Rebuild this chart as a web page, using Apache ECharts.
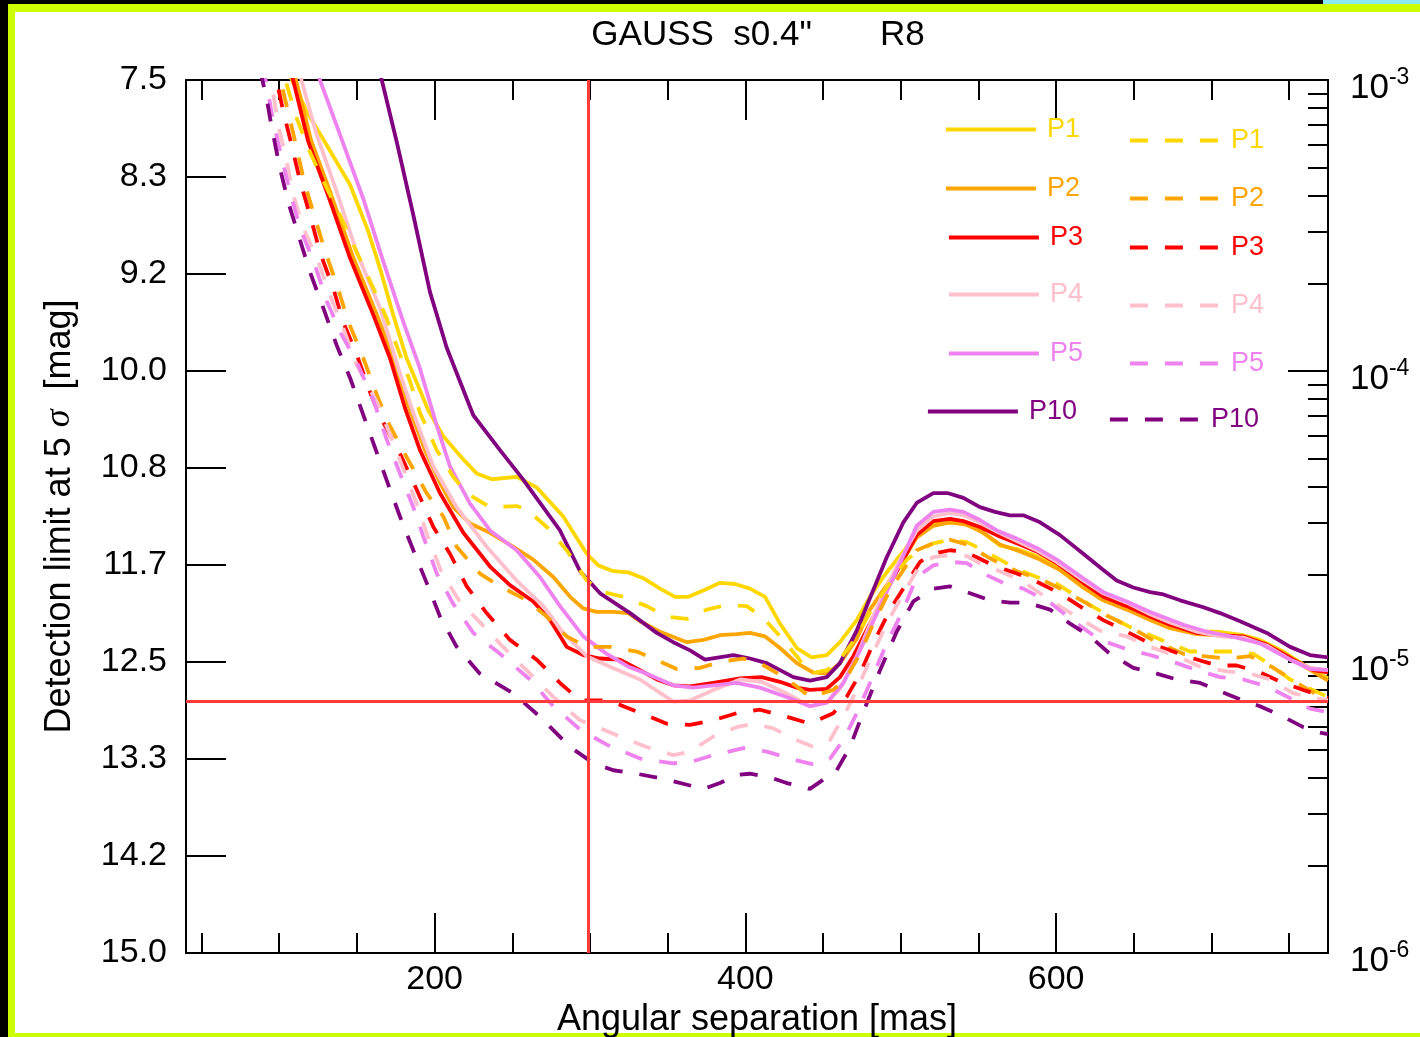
<!DOCTYPE html>
<html><head><meta charset="utf-8">
<script src="https://cdn.jsdelivr.net/npm/echarts@6/dist/echarts.min.js"></script>
<style>
html,body{margin:0;padding:0;background:#000;}
#frame{position:absolute;left:8px;top:4px;width:1412px;height:1033px;background:#ccff00;}
#white{position:absolute;left:15px;top:12px;width:1405px;height:1021px;background:#fff;}
#cyan{position:absolute;left:1323px;top:0;width:97px;height:4px;background:#8ae8f0;}
#c{position:absolute;left:0;top:0;width:1420px;height:1037px;}
</style>
</head><body>
<div id="frame"></div><div id="white"></div><div id="cyan"></div>
<div id="c"></div>
<script>
// ---------- text ----------
const titleText = 'GAUSS  s0.4"       R8';
const xName = 'Angular separation [mas]';
const yName = 'Detection limit at 5 {i|σ}  [mag]';
const names = ['P1', 'P2', 'P3', 'P4', 'P5', 'P10'];
const colors = ['#FFD700', '#FFA500', '#FF0000', '#FFC0CB', '#EE82EE', '#800080'];

// ---------- axes ----------
const xMin = 40, xMax = 775;
const magMin = 7.5, magMax = 15;
const xMajorTicks = [200, 400, 600];
const xMinorTicks = [50, 100, 150, 250, 300, 350, 450, 500, 550, 650, 700, 750];
const magTicks = [7.5, 8.3333, 9.1667, 10, 10.8333, 11.6667, 12.5, 13.3333, 14.1667, 15];
const fluxMajor = [1e-3, 1e-4, 1e-5, 1e-6];
const fluxMinor = [2e-6, 3e-6, 4e-6, 5e-6, 6e-6, 7e-6, 8e-6, 9e-6,
                   2e-5, 3e-5, 4e-5, 5e-5, 6e-5, 7e-5, 8e-5, 9e-5,
                   2e-4, 3e-4, 4e-4, 5e-4, 6e-4, 7e-4, 8e-4, 9e-4];
const limitSep = 299;
const limitMag = 12.84;

// ---------- data: [separation mas, limit mag] ----------
const p1Solid = [[99.2,7.24],[108.2,7.50],[117.7,7.77],[130.6,8.06],[145.6,8.40],[157.3,8.80],[164.9,9.12],[173.4,9.52],[182.0,9.89],[196.0,10.34],[205.6,10.56],[218.5,10.76],[227.1,10.88],[236.8,10.93],[252.8,10.91],[265.7,11.00],[282.8,11.25],[297.9,11.57],[305.4,11.67],[315.0,11.72],[324.7,11.73],[334.3,11.78],[345.1,11.87],[354.7,11.94],[363.3,11.94],[374.0,11.88],[383.7,11.82],[393.4,11.83],[403.0,11.87],[412.7,11.94],[422.3,12.17],[433.1,12.38],[442.7,12.46],[452.4,12.44],[460.9,12.33],[471.7,12.14],[480.2,11.94],[488.8,11.77],[497.4,11.62],[510.3,11.41],[521.0,11.32],[531.7,11.30],[540.3,11.31],[551.0,11.37],[563.9,11.50],[574.7,11.53],[587.5,11.59],[600.4,11.68],[617.5,11.86],[630.4,11.97],[645.5,12.04],[660.5,12.13],[673.3,12.20],[690.5,12.24],[703.4,12.24],[720.5,12.27],[731.2,12.31],[746.2,12.41],[761.3,12.54],[775.0,12.64]];
const p2Solid = [[102.4,7.07],[110.8,7.50],[120.5,8.02],[132.7,8.46],[147.5,9.02],[162.3,9.50],[173.2,9.88],[182.9,10.29],[193.8,10.68],[203.5,10.96],[212.0,11.17],[222.8,11.31],[235.7,11.39],[250.7,11.51],[263.5,11.62],[276.4,11.77],[287.2,11.94],[295.7,12.04],[304.3,12.07],[315.0,12.07],[324.7,12.08],[332.2,12.15],[345.1,12.24],[362.3,12.33],[373.0,12.31],[383.7,12.27],[394.4,12.26],[403.0,12.25],[412.7,12.28],[422.3,12.38],[433.1,12.51],[443.7,12.59],[452.4,12.60],[460.9,12.51],[471.7,12.30],[480.2,12.05],[491.0,11.84],[501.7,11.62],[510.3,11.43],[521.0,11.33],[531.7,11.30],[542.5,11.32],[553.2,11.39],[563.9,11.49],[576.8,11.55],[589.7,11.62],[602.5,11.71],[617.5,11.86],[630.4,11.97],[645.5,12.05],[660.5,12.14],[673.3,12.21],[690.5,12.26],[703.4,12.27],[720.5,12.29],[731.2,12.33],[746.2,12.42],[761.3,12.55],[775.0,12.66]];
const p3Solid = [[103.7,7.23],[109.1,7.51],[118.7,8.03],[130.6,8.46],[145.6,9.03],[160.6,9.52],[171.3,9.89],[181.0,10.32],[190.6,10.68],[203.5,11.05],[218.5,11.39],[235.7,11.68],[248.5,11.84],[263.5,11.98],[274.3,12.14],[285.0,12.37],[295.7,12.44],[306.5,12.47],[319.3,12.48],[332.2,12.57],[343.0,12.65],[353.6,12.70],[364.4,12.71],[379.4,12.68],[396.6,12.64],[410.5,12.63],[422.3,12.67],[433.1,12.72],[441.6,12.74],[452.4,12.73],[460.9,12.63],[469.5,12.45],[480.2,12.17],[491.0,11.88],[501.7,11.62],[510.3,11.41],[521.0,11.29],[531.7,11.27],[540.3,11.29],[551.0,11.34],[561.8,11.41],[574.7,11.48],[587.5,11.55],[600.4,11.65],[617.5,11.82],[630.4,11.94],[645.5,12.02],[660.5,12.11],[673.3,12.18],[690.5,12.25],[703.4,12.27],[720.5,12.28],[735.6,12.35],[752.7,12.48],[765.6,12.57],[775.0,12.59]];
const p4Solid = [[109.5,7.24],[114.5,7.51],[124.1,7.97],[137.0,8.46],[149.9,8.98],[164.9,9.46],[177.7,10.02],[186.3,10.36],[199.2,10.82],[214.2,11.17],[233.5,11.51],[252.8,11.80],[270.0,12.02],[282.8,12.25],[297.9,12.45],[312.9,12.54],[332.2,12.65],[353.6,12.84],[364.4,12.83],[379.4,12.74],[396.6,12.65],[410.5,12.67],[426.6,12.77],[441.6,12.88],[452.4,12.85],[460.9,12.73],[471.7,12.45],[486.7,11.97],[499.6,11.62],[510.3,11.37],[521.0,11.25],[531.7,11.22],[540.3,11.24],[551.0,11.30],[561.8,11.38],[574.7,11.46],[587.5,11.54],[600.4,11.64],[617.5,11.80],[630.4,11.91],[645.5,11.99],[660.5,12.09],[673.3,12.16],[690.5,12.24],[705.5,12.28],[720.5,12.29],[735.6,12.36],[750.6,12.48],[763.4,12.55],[775.0,12.57]];
const p5Solid = [[119.8,7.20],[126.2,7.50],[139.1,7.97],[154.1,8.52],[167.0,9.06],[179.9,9.58],[190.6,9.98],[201.4,10.47],[209.9,10.82],[222.8,11.14],[235.7,11.37],[252.8,11.54],[267.8,11.77],[280.7,12.02],[295.7,12.28],[310.8,12.43],[324.7,12.54],[336.5,12.60],[353.6,12.70],[366.5,12.72],[379.4,12.70],[394.4,12.68],[409.4,12.72],[426.6,12.80],[441.6,12.88],[452.4,12.85],[463.1,12.68],[473.8,12.40],[486.7,12.02],[499.6,11.65],[510.3,11.33],[521.0,11.21],[531.7,11.19],[540.3,11.21],[551.0,11.28],[561.8,11.37],[574.7,11.44],[587.5,11.52],[600.4,11.62],[617.5,11.78],[630.4,11.90],[645.5,11.98],[660.5,12.07],[682.0,12.18],[697.0,12.24],[716.3,12.29],[731.2,12.34],[750.6,12.48],[763.4,12.56],[775.0,12.57]];
const p10Solid = [[158.0,7.05],[166.0,7.50],[175.6,8.03],[186.3,8.66],[197.0,9.32],[207.8,9.80],[224.9,10.38],[242.1,10.68],[256.3,10.92],[280.7,11.37],[293.6,11.72],[306.5,11.91],[325.8,12.08],[343.0,12.25],[353.6,12.33],[364.4,12.40],[374.0,12.48],[392.3,12.44],[403.0,12.47],[413.8,12.51],[430.9,12.63],[441.6,12.66],[452.4,12.63],[460.9,12.51],[471.7,12.23],[482.4,11.88],[491.0,11.60],[501.7,11.30],[510.5,11.13],[521.0,11.05],[530.6,11.05],[540.3,11.09],[551.0,11.17],[560.7,11.21],[570.3,11.24],[578.9,11.24],[589.7,11.30],[602.5,11.41],[617.5,11.57],[630.4,11.71],[639.0,11.80],[649.7,11.86],[660.5,11.90],[669.0,11.92],[679.8,11.97],[694.8,12.03],[705.5,12.08],[718.4,12.15],[735.6,12.25],[750.6,12.37],[763.4,12.44],[775.0,12.46]];

const p1Dash = [[98.6,7.24],[104.8,7.54],[111.3,7.83],[119.8,8.12],[130.6,8.43],[139.1,8.66],[149.9,8.98],[160.6,9.29],[169.2,9.55],[177.7,9.86],[184.2,10.09],[190.6,10.36],[201.4,10.68],[212.0,10.91],[220.7,11.05],[235.7,11.17],[252.8,11.16],[259.3,11.19],[272.2,11.34],[285.0,11.54],[297.9,11.80],[308.6,11.90],[321.5,11.94],[336.5,12.02],[349.4,12.11],[362.3,12.13],[375.1,12.05],[388.0,12.01],[400.9,12.02],[411.6,12.12],[422.3,12.28],[433.1,12.45],[441.6,12.60],[452.4,12.57],[460.9,12.48],[471.7,12.28],[482.4,12.02],[493.1,11.82],[503.9,11.62],[512.4,11.54],[521.0,11.48],[531.7,11.45],[542.5,11.47],[553.2,11.54],[563.9,11.62],[574.7,11.70],[587.5,11.77],[598.2,11.81],[609.0,11.90],[621.8,12.01],[634.7,12.11],[647.6,12.20],[660.5,12.27],[673.3,12.34],[686.2,12.41],[701.2,12.41],[714.1,12.41],[727.0,12.43],[739.8,12.54],[750.6,12.65],[763.4,12.73],[775.0,12.80]];
const p2Dash = [[96.6,7.29],[101.1,7.52],[105.7,7.77],[110.8,8.06],[116.0,8.37],[122.4,8.66],[129.5,8.97],[137.8,9.29],[144.3,9.57],[153.3,9.86],[161.6,10.16],[169.2,10.42],[182.0,10.74],[194.9,11.05],[205.6,11.25],[214.2,11.51],[229.2,11.74],[242.1,11.85],[259.3,11.97],[272.2,12.11],[285.0,12.28],[297.9,12.37],[312.9,12.37],[330.1,12.41],[340.8,12.47],[355.8,12.56],[370.8,12.55],[383.7,12.50],[398.7,12.47],[409.4,12.51],[422.3,12.61],[433.1,12.71],[441.6,12.80],[456.6,12.74],[465.2,12.63],[473.8,12.43],[482.4,12.17],[493.1,11.88],[501.7,11.71],[510.3,11.54],[521.0,11.48],[531.7,11.45],[542.5,11.49],[557.5,11.61],[574.7,11.72],[591.8,11.80],[604.6,11.88],[617.5,11.98],[632.6,12.10],[647.6,12.20],[664.8,12.33],[681.9,12.43],[694.8,12.45],[709.8,12.47],[724.9,12.45],[739.9,12.55],[754.9,12.68],[767.8,12.78],[775.0,12.81]];
const p3Dash = [[94.1,7.29],[98.4,7.51],[102.6,7.77],[108.0,8.06],[113.4,8.37],[119.8,8.66],[126.2,8.98],[134.8,9.29],[141.2,9.58],[149.9,9.86],[158.4,10.18],[164.9,10.39],[177.7,10.71],[188.5,11.02],[199.2,11.34],[209.9,11.57],[220.7,11.85],[233.5,12.08],[248.5,12.31],[265.7,12.48],[280.7,12.68],[293.6,12.83],[312.9,12.83],[321.5,12.88],[336.5,12.96],[349.4,13.03],[364.4,13.04],[379.4,13.00],[394.4,12.94],[409.4,12.91],[426.6,12.97],[441.6,13.03],[456.6,12.94],[465.2,12.80],[473.8,12.60],[482.4,12.34],[493.1,12.05],[503.9,11.82],[512.4,11.64],[521.0,11.57],[531.7,11.54],[540.3,11.55],[548.9,11.60],[559.6,11.67],[574.7,11.74],[587.5,11.81],[602.5,11.91],[617.5,12.04],[630.4,12.14],[645.5,12.24],[660.5,12.34],[673.3,12.40],[688.4,12.47],[703.4,12.53],[716.3,12.53],[731.2,12.59],[746.2,12.68],[759.1,12.74],[775.0,12.81]];
const p4Dash = [[91.5,7.33],[95.2,7.54],[99.4,7.89],[104.8,8.20],[109.1,8.49],[115.5,8.77],[125.1,9.06],[132.7,9.35],[141.2,9.63],[149.9,9.95],[163.6,10.29],[172.6,10.59],[181.0,10.88],[189.3,11.17],[195.8,11.43],[204.8,11.74],[215.7,11.97],[229.2,12.16],[244.0,12.37],[261.4,12.60],[276.4,12.80],[293.6,13.00],[308.6,13.08],[324.7,13.17],[336.5,13.23],[353.6,13.30],[364.4,13.27],[379.4,13.14],[394.4,13.06],[405.1,13.03],[418.0,13.07],[430.9,13.16],[443.7,13.23],[454.5,13.17],[463.1,12.97],[471.7,12.74],[480.2,12.48],[491.0,12.17],[501.7,11.91],[512.4,11.67],[521.0,11.60],[531.7,11.58],[542.5,11.59],[553.2,11.67],[563.9,11.72],[578.9,11.81],[596.1,11.97],[613.3,12.11],[628.2,12.23],[645.5,12.28],[660.5,12.37],[677.6,12.45],[692.7,12.54],[709.8,12.58],[724.9,12.60],[737.7,12.65],[752.8,12.77],[763.4,12.80],[775.0,12.83]];
const p5Dash = [[88.9,7.37],[91.9,7.54],[96.2,7.86],[101.6,8.17],[106.9,8.46],[113.4,8.77],[123.0,9.09],[130.6,9.40],[140.2,9.69],[149.9,9.92],[160.6,10.25],[169.2,10.59],[177.7,10.88],[186.3,11.17],[192.7,11.42],[201.4,11.74],[212.0,12.00],[224.9,12.25],[242.1,12.43],[261.4,12.65],[276.4,12.88],[293.6,13.08],[310.8,13.21],[332.2,13.33],[353.6,13.37],[364.4,13.36],[379.4,13.30],[398.7,13.24],[413.8,13.27],[428.8,13.33],[443.7,13.38],[454.5,13.33],[463.1,13.17],[471.7,12.94],[480.2,12.68],[491.0,12.34],[501.7,12.05],[510.3,11.77],[521.0,11.67],[531.7,11.64],[542.5,11.65],[553.2,11.74],[566.0,11.82],[578.9,11.87],[596.1,11.99],[613.3,12.17],[628.2,12.31],[645.5,12.39],[660.5,12.44],[677.6,12.51],[692.7,12.58],[705.5,12.63],[720.5,12.65],[735.6,12.71],[750.6,12.81],[763.4,12.90],[775.0,12.93]];
const p10Dash = [[87.6,7.41],[91.9,7.66],[95.2,7.91],[100.5,8.26],[105.8,8.55],[112.3,8.83],[119.8,9.15],[128.4,9.46],[137.0,9.78],[145.6,10.06],[153.1,10.34],[160.6,10.62],[169.2,10.94],[177.7,11.25],[186.3,11.54],[194.9,11.82],[203.5,12.11],[214.2,12.37],[229.2,12.60],[250.7,12.77],[267.8,12.97],[287.2,13.23],[302.2,13.37],[315.0,13.43],[330.1,13.46],[349.4,13.51],[373.0,13.59],[383.7,13.54],[394.4,13.47],[403.0,13.46],[415.9,13.49],[426.6,13.54],[441.6,13.59],[458.8,13.43],[467.4,13.23],[475.9,12.93],[486.7,12.57],[497.4,12.24],[508.1,11.98],[521.0,11.87],[531.7,11.85],[544.6,11.91],[557.5,11.97],[570.3,11.99],[581.1,11.99],[596.1,12.05],[609.0,12.17],[621.8,12.28],[634.7,12.43],[649.7,12.55],[664.8,12.60],[677.6,12.65],[692.7,12.68],[703.4,12.74],[718.4,12.82],[731.2,12.88],[746.2,12.97],[759.1,13.06],[767.7,13.10],[775.0,13.12]];

const solidSets = [p1Solid, p2Solid, p3Solid, p4Solid, p5Solid, p10Solid];
const dashSets = [p1Dash, p2Dash, p3Dash, p4Dash, p5Dash, p10Dash];

// ---------- layout (legend rows) ----------
const legendSolidLeft = [944, 944, 947, 947, 947, 926];
const legendSolidY = [128, 187, 236, 293, 352, 410];
const legendDashLeft = [1128, 1128, 1128, 1128, 1128, 1108];
const legendDashY = [139, 197, 246, 304, 362, 418];

const FONT = '"Liberation Sans", Arial, Helvetica, sans-serif';
const fluxToMag = f => +(-2.5 * Math.log10(f)).toFixed(6);
const majorMag = fluxMajor.map(fluxToMag);
const minorMag = fluxMinor.map(fluxToMag);
const LW = 3.8;
const DASH = [18, 17];
const axisLineStyle = { color: '#000', width: 2 };

const chart = echarts.init(document.getElementById('c'), null, { renderer: 'canvas' });

const series = [];
solidSets.forEach((d, i) => series.push({
  name: names[i], type: 'line', data: d, showSymbol: false, symbol: 'none',
  lineStyle: { color: colors[i], width: LW, type: 'solid' }, itemStyle: { color: colors[i] },
  emphasis: { disabled: true }, clip: true, z: 2
}));
dashSets.forEach((d, i) => series.push({
  name: names[i] + ' dashed', type: 'line', data: d, showSymbol: false, symbol: 'none',
  lineStyle: { color: colors[i], width: LW, type: DASH }, itemStyle: { color: colors[i] },
  emphasis: { disabled: true }, clip: true, z: 3
}));
series.push({
  name: 'limits', type: 'line', data: [[limitSep, limitMag]], showSymbol: false, symbol: 'none',
  lineStyle: { opacity: 0 }, z: 5, silent: true,
  markLine: {
    silent: true, symbol: ['none', 'none'], label: { show: false },
    lineStyle: { color: '#ff3b3b', width: 3, type: 'solid' },
    emphasis: { disabled: true },
    data: [{ xAxis: limitSep }, { yAxis: limitMag }]
  }
});

const legends = [];
names.forEach((n, i) => {
  const common = {
    orient: 'vertical', padding: 0, itemWidth: 90, itemHeight: 24, selectedMode: false,
    textStyle: { color: colors[i], fontSize: 27, fontFamily: FONT, padding: [0, 0, 0, 6] },
    lineStyle: { width: LW },
    itemStyle: { opacity: 0 }
  };
  legends.push(Object.assign({}, common, {
    data: [{ name: n }], left: legendSolidLeft[i], top: legendSolidY[i] - 12
  }));
  legends.push(Object.assign({}, common, {
    data: [{ name: n + ' dashed' }], left: legendDashLeft[i], top: legendDashY[i] - 12,
    formatter: () => n
  }));
});

const baseX = { type: 'value', min: xMin, max: xMax, splitLine: { show: false } };
const baseY = { type: 'value', min: magMin, max: magMax, inverse: true, splitLine: { show: false } };

const option = {
  backgroundColor: 'transparent',
  animation: false,
  grid: { left: 186, right: 92, top: 80, bottom: 84, containLabel: false, outerBoundsMode: 'none' },
  legend: legends,
  xAxis: [
    Object.assign({}, baseX, {
      position: 'bottom',
      axisLine: { show: true, onZero: false, lineStyle: axisLineStyle },
      axisTick: { show: true, inside: true, length: 40, customValues: xMajorTicks, lineStyle: axisLineStyle },
      axisLabel: { show: true, customValues: xMajorTicks, margin: 10, color: '#000', fontSize: 34, fontFamily: FONT },
      name: xName, nameLocation: 'middle', nameGap: 45,
      nameTextStyle: { color: '#000', fontSize: 36, fontFamily: FONT }
    }),
    Object.assign({}, baseX, {
      position: 'bottom',
      axisLine: { show: false, onZero: false },
      axisTick: { show: true, inside: true, length: 20, customValues: xMinorTicks, lineStyle: axisLineStyle },
      axisLabel: { show: false }
    }),
    Object.assign({}, baseX, {
      position: 'top',
      axisLine: { show: true, onZero: false, lineStyle: axisLineStyle },
      axisTick: { show: true, inside: true, length: 40, customValues: xMajorTicks, lineStyle: axisLineStyle },
      axisLabel: { show: false }
    }),
    Object.assign({}, baseX, {
      position: 'top',
      axisLine: { show: false, onZero: false },
      axisTick: { show: true, inside: true, length: 20, customValues: xMinorTicks, lineStyle: axisLineStyle },
      axisLabel: { show: false }
    })
  ],
  yAxis: [
    Object.assign({}, baseY, {
      position: 'left',
      axisLine: { show: true, onZero: false, lineStyle: axisLineStyle },
      axisTick: { show: true, inside: true, length: 40, customValues: magTicks, lineStyle: axisLineStyle },
      axisLabel: { show: true, customValues: magTicks, margin: 19, color: '#000', fontSize: 34, fontFamily: FONT,
                   padding: [11, 0, 0, 0],
                   formatter: v => Number(v).toFixed(1) },
      name: yName, nameLocation: 'middle', nameGap: 108,
      nameTextStyle: { color: '#000', fontSize: 36, fontFamily: FONT,
        rich: { i: { fontStyle: 'italic', fontFamily: '"Liberation Serif", "DejaVu Serif", serif', fontSize: 36, color: '#000' } } }
    }),
    Object.assign({}, baseY, {
      position: 'right',
      axisLine: { show: true, onZero: false, lineStyle: axisLineStyle },
      axisTick: { show: true, inside: true, length: 40, customValues: majorMag, lineStyle: axisLineStyle },
      axisLabel: { show: true, customValues: majorMag, margin: 22, color: '#000',
        padding: [16, 0, 0, 0],
        formatter: v => '{b|10}{s|' + Math.round(-v / 2.5) + '}',
        rich: {
          b: { fontSize: 35, fontFamily: FONT, color: '#000', lineHeight: 44 },
          s: { fontSize: 23, fontFamily: FONT, color: '#000', lineHeight: 16, verticalAlign: 'top' }
        } }
    }),
    Object.assign({}, baseY, {
      position: 'right',
      axisLine: { show: false, onZero: false },
      axisTick: { show: true, inside: true, length: 20, customValues: minorMag, lineStyle: axisLineStyle },
      axisLabel: { show: false }
    })
  ],
  graphic: {
    elements: [{
      type: 'text', x: 758, y: 35, silent: true,
      style: { text: titleText, fill: '#000', fontSize: 35, fontFamily: FONT, align: 'center', verticalAlign: 'middle' }
    }]
  },
  series: series
};
chart.setOption(option);
</script>
</body></html>
